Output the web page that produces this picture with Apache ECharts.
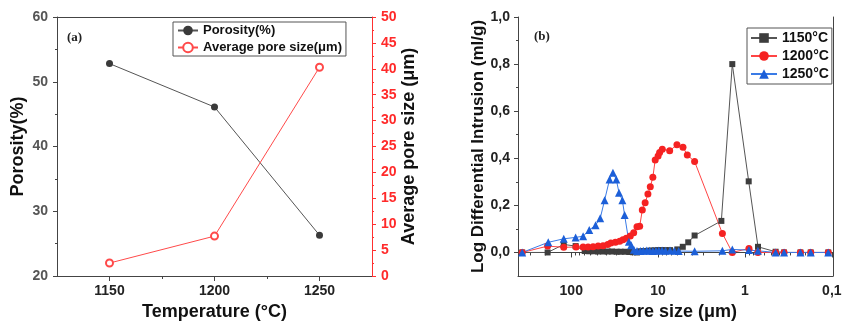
<!DOCTYPE html>
<html>
<head>
<meta charset="utf-8">
<script src="https://cdn.jsdelivr.net/npm/echarts@6/dist/echarts.min.js"></script>
<style>
  html, body { margin: 0; padding: 0; background: #fff; }
  #chart { width: 842px; height: 322px; }
</style>
</head>
<body>
<div id="chart"></div>
<script>
// (a) 温度 - 孔隙率 / 平均孔径
var temps = [1150, 1200, 1250];
var porosity = [52.8, 46.1, 26.3];
var avgPore = [2.5, 7.7, 40.3];

// (b) 孔径分布, x = 孔径(μm), y = Log Differential Intrusion
var size1150 = [367, 187, 122, 89, 70, 62, 55, 49, 43, 38, 34, 30, 27, 24, 21.5, 19.5, 17.5, 16, 14.5, 13, 12, 11, 10, 9.2, 8.3, 7.3, 6.0, 5.2, 4.5, 3.8, 1.87, 1.40, 0.906, 0.708, 0.444, 0.355, 0.23, 0.175, 0.11];
var val1150 = [0, 0, 0.034, 0.027, 0.006, 0.005, 0.005, 0.004, 0.004, 0.004, 0.004, 0.003, 0.003, 0.003, 0.002, 0.001, 0, 0.005, 0.006, 0.007, 0.008, 0.009, 0.01, 0.01, 0.01, 0.01, 0.013, 0.024, 0.043, 0.072, 0.134, 0.80, 0.302, 0.024, 0.003, 0, 0, 0, 0];

var size1200 = [367, 187, 122, 88, 73, 64, 56, 49, 43, 38, 35, 31, 27.7, 25.4, 23.2, 20.9, 19.1, 17.5, 16.3, 15.2, 14.1, 13.1, 12.3, 11.5, 10.8, 10.0, 9.6, 8.95, 7.36, 6.07, 5.17, 4.61, 3.8, 1.82, 1.40, 0.9, 0.71, 0.444, 0.355, 0.23, 0.175, 0.11];
var val1200 = [0, 0.027, 0.022, 0.023, 0.023, 0.023, 0.024, 0.027, 0.029, 0.034, 0.04, 0.043, 0.048, 0.054, 0.06, 0.07, 0.084, 0.109, 0.111, 0.18, 0.211, 0.248, 0.279, 0.319, 0.393, 0.41, 0.424, 0.438, 0.432, 0.457, 0.447, 0.414, 0.386, 0.081, 0, 0.017, 0, 0, 0, 0, 0, 0];

var size1250 = [367, 184, 122, 89, 73, 62, 52.5, 46.4, 41.3, 36.2, 33.1, 30.3, 28.2, 25.8, 24.3, 21.7, 20.4, 19, 17.5, 16, 14.8, 13.5, 12.5, 11.5, 10.6, 9.8, 9, 8.2, 7.3, 6.5, 5.8, 3.8, 1.82, 1.40, 0.9, 0.71, 0.444, 0.355, 0.23, 0.175, 0.11];
var val1250 = [0, 0.043, 0.058, 0.064, 0.069, 0.095, 0.116, 0.145, 0.222, 0.31, 0.339, 0.31, 0.254, 0.222, 0.159, 0.045, 0.031, 0.012, 0.006, 0.006, 0.007, 0.008, 0.007, 0.006, 0.007, 0.008, 0.008, 0.007, 0.008, 0.007, 0.006, 0.005, 0.007, 0.013, 0.01, 0.007, 0, 0, 0, 0, 0];

// 刻度
var yTicksB = [0, 0.2, 0.4, 0.6, 0.8, 1.0];
var yMinorB = [0.1, 0.3, 0.5, 0.7, 0.9];
var xTicksB = [100, 10, 1, 0.1];
var xMinorB = [200, 300, 400, 20, 30, 40, 50, 60, 70, 80, 90, 2, 3, 4, 5, 6, 7, 8, 9, 0.2, 0.3, 0.4, 0.5, 0.6, 0.7, 0.8, 0.9];

function zip(xs, ys) {
    var out = [];
    for (var i = 0; i < xs.length; i++) out.push([xs[i], ys[i]]);
    return out;
}

var FONT = 'Liberation Sans';
var axisGray = '#444';
var lbl = { fontFamily: FONT, fontWeight: 'bold', fontSize: 14, color: '#222' };
var nameStyle = { fontFamily: FONT, fontWeight: 'bold', fontSize: 18, color: '#111' };

function frameAxis(grid, pos, type) {
    return {
        gridIndex: grid, position: pos, type: type || 'value', min: 0, max: 1,
        axisLine: { show: true, lineStyle: { color: axisGray, width: 1 } },
        axisTick: { show: false }, axisLabel: { show: false }, splitLine: { show: false }
    };
}

var myChart = echarts.init(document.getElementById('chart'));
myChart.setOption({
    backgroundColor: '#fff',
    animation: false,
    grid: [
        { left: 57, right: 470, top: 17, bottom: 46, containLabel: false, outerBoundsMode: 'none' },
        { left: 518, right: 9, top: 17, bottom: 46, containLabel: false, outerBoundsMode: 'none' }
    ],
    graphic: [
        { type: 'text', left: 67, top: 31, style: { text: '(a)', font: 'bold 13px "Liberation Serif"', fill: '#222' } },
        { type: 'text', left: 534, top: 30, style: { text: '(b)', font: 'bold 13px "Liberation Serif"', fill: '#222' } }
    ],
    legend: [
        {
            left: 173, top: 22, orient: 'vertical', padding: [2, 4], itemGap: 4,
            itemWidth: 20, itemHeight: 12,
            borderColor: '#555', borderWidth: 1,
            textStyle: { fontFamily: FONT, fontWeight: 'bold', fontSize: 13, color: '#111' },
            data: ['Porosity(%)', 'Average pore size(μm)']
        },
        {
            left: 747, top: 28, orient: 'vertical', padding: [3, 3], itemGap: 4,
            itemWidth: 26, itemHeight: 12,
            borderColor: '#555', borderWidth: 1,
            textStyle: { fontFamily: FONT, fontWeight: 'bold', fontSize: 14, color: '#111' },
            data: ['1150°C', '1200°C', '1250°C']
        }
    ],
    xAxis: [
        {   // 0
            gridIndex: 0, type: 'value', min: 1125, max: 1275, position: 'bottom',
            name: 'Temperature (°C)', nameLocation: 'middle', nameGap: 27, nameTextStyle: nameStyle,
            axisLine: { lineStyle: { color: axisGray } },
            axisTick: { inside: false, length: 5, customValues: temps, lineStyle: { color: axisGray } },
            axisLabel: Object.assign({
                margin: 8, customValues: temps,
                formatter: function (v) { return String(v); }
            }, lbl),
            splitLine: { show: false }
        },
        {   // 1 次刻度
            gridIndex: 0, type: 'value', min: 1125, max: 1275, position: 'bottom',
            axisLine: { show: false },
            axisTick: { inside: false, length: 3, customValues: [1175, 1225], lineStyle: { color: axisGray } },
            axisLabel: { show: false }, splitLine: { show: false }
        },
        frameAxis(0, 'top'),
        {   // 3
            gridIndex: 1, type: 'log', logBase: 10, min: 0.097, max: 410, inverse: true, position: 'bottom',
            name: 'Pore size (μm)', nameLocation: 'middle', nameGap: 25, nameTextStyle: nameStyle,
            axisLine: { lineStyle: { color: axisGray } },
            axisTick: { inside: false, length: 5, customValues: xTicksB, lineStyle: { color: axisGray } },
            axisLabel: Object.assign({
                margin: 8, customValues: xTicksB,
                formatter: function (v) { return String(+(+v).toFixed(1)).replace('.', ','); }
            }, lbl),
            splitLine: { show: false }
        },
        {   // 4 次刻度
            gridIndex: 1, type: 'log', logBase: 10, min: 0.097, max: 410, inverse: true, position: 'bottom',
            axisLine: { show: false },
            axisTick: { inside: false, length: 3, customValues: xMinorB, lineStyle: { color: axisGray } },
            axisLabel: { show: false }, splitLine: { show: false }
        },
        frameAxis(1, 'top')
    ],
    yAxis: [
        {   // 0
            gridIndex: 0, type: 'value', min: 20, max: 60, interval: 10, position: 'left',
            name: 'Porosity(%)', nameLocation: 'middle', nameGap: 30, nameTextStyle: nameStyle,
            axisLine: { show: true, lineStyle: { color: axisGray } },
            axisTick: { inside: false, length: 4, lineStyle: { color: axisGray } },
            minorTick: { show: true, splitNumber: 2, length: 2, lineStyle: { color: axisGray } },
            axisLabel: Object.assign({}, lbl, { margin: 9, color: '#555' }),
            splitLine: { show: false }
        },
        {   // 1
            gridIndex: 0, type: 'value', min: 0, max: 50, interval: 5, position: 'right',
            name: 'Average pore size (μm)', nameLocation: 'middle', nameGap: 28, nameTextStyle: nameStyle,
            axisLine: { show: true, lineStyle: { color: '#ff3030' } },
            axisTick: { inside: false, length: 4, lineStyle: { color: '#ff3030' } },
            minorTick: { show: true, splitNumber: 2, length: 2, lineStyle: { color: '#ff3030' } },
            axisLabel: Object.assign({}, lbl, { margin: 9, color: '#ff2a2a' }),
            splitLine: { show: false }
        },
        {   // 2
            gridIndex: 1, type: 'value', min: -0.1, max: 1.0, position: 'left',
            name: 'Log Differential Intrusion (ml/g)', nameLocation: 'middle', nameGap: 31,
            nameTextStyle: Object.assign({}, nameStyle, { fontSize: 17 }),
            axisLine: { show: true, lineStyle: { color: axisGray } },
            axisTick: { inside: false, length: 4, customValues: yTicksB, lineStyle: { color: axisGray } },
            axisLabel: Object.assign({
                margin: 8, customValues: yTicksB,
                formatter: function (v) { return (+v).toFixed(1).replace('.', ','); }
            }, lbl),
            splitLine: { show: false }
        },
        {   // 3 次刻度
            gridIndex: 1, type: 'value', min: -0.1, max: 1.0, position: 'left',
            axisLine: { show: false },
            axisTick: { inside: false, length: 2, customValues: yMinorB, lineStyle: { color: axisGray } },
            axisLabel: { show: false }, splitLine: { show: false }
        },
        frameAxis(1, 'right')
    ],
    series: [
        {
            name: 'Porosity(%)', type: 'line', xAxisIndex: 0, yAxisIndex: 0,
            data: zip(temps, porosity),
            symbol: 'circle', symbolSize: 7,
            itemStyle: { color: '#3a3a3a' },
            lineStyle: { color: '#555', width: 1 }
        },
        {
            name: 'Average pore size(μm)', type: 'line', xAxisIndex: 0, yAxisIndex: 1,
            data: zip(temps, avgPore),
            symbol: 'emptyCircle', symbolSize: 7,
            itemStyle: { color: '#ff4a4a', borderWidth: 1 },
            lineStyle: { color: '#ff4a4a', width: 1 }
        },
        {
            name: '1150°C', type: 'line', xAxisIndex: 3, yAxisIndex: 2,
            data: zip(size1150, val1150),
            symbol: 'rect', symbolSize: 6,
            itemStyle: { color: '#3d3d3d' },
            lineStyle: { color: '#555', width: 1 }
        },
        {
            name: '1200°C', type: 'line', xAxisIndex: 3, yAxisIndex: 2,
            data: zip(size1200, val1200),
            symbol: 'circle', symbolSize: 7,
            itemStyle: { color: '#f52222' },
            lineStyle: { color: '#ff4444', width: 1 }
        },
        {
            name: '1250°C', type: 'line', xAxisIndex: 3, yAxisIndex: 2,
            data: zip(size1250, val1250),
            symbol: 'triangle', symbolSize: 8,
            itemStyle: { color: '#1c5fd8' },
            lineStyle: { color: '#3a7be6', width: 1 }
        }
    ]
});
</script>
</body>
</html>
